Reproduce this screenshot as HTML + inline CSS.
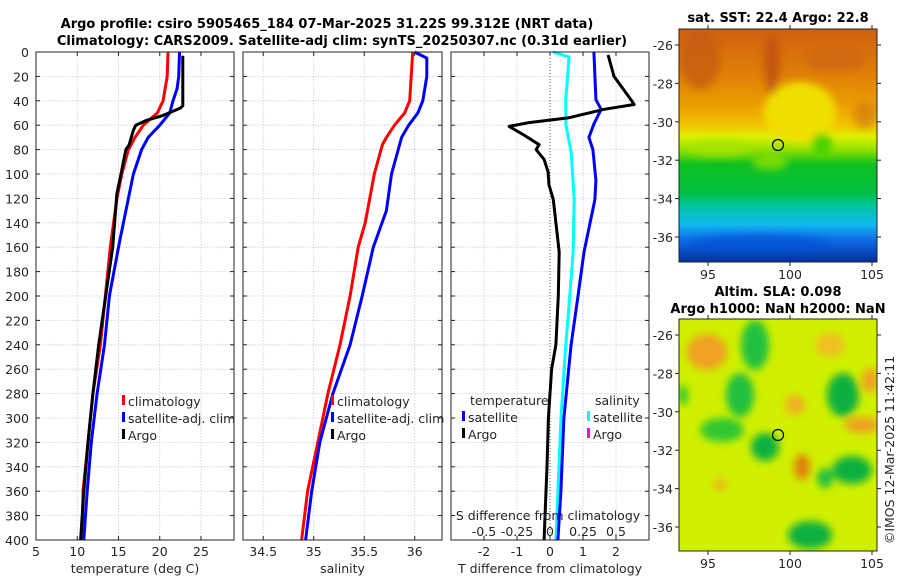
<!DOCTYPE html>
<html><head><meta charset="utf-8"><style>
body{margin:0;background:#fff;}
svg{display:block;font-family:"DejaVu Sans","Liberation Sans",sans-serif;}
.t{font-size:12.5px;fill:#262626}
.b{font-weight:bold;font-size:13px;fill:#000}
</style></head><body>
<svg id="fig" width="900" height="580" viewBox="0 0 900 580" xmlns="http://www.w3.org/2000/svg">
<defs>
<linearGradient id="sstg" x1="0" y1="0" x2="0" y2="1">
<stop offset="0" stop-color="#d06010"/><stop offset="0.2" stop-color="#e08008"/><stop offset="0.33" stop-color="#eca000"/>
<stop offset="0.42" stop-color="#f0c800"/><stop offset="0.46" stop-color="#e0f000"/><stop offset="0.52" stop-color="#90e000"/>
<stop offset="0.58" stop-color="#10c020"/><stop offset="0.7" stop-color="#00c040"/><stop offset="0.76" stop-color="#00c4a0"/>
<stop offset="0.84" stop-color="#10b8f0"/><stop offset="0.9" stop-color="#1070e8"/><stop offset="1" stop-color="#0030a0"/>
</linearGradient>
<filter id="bl" x="-50%" y="-50%" width="200%" height="200%"><feGaussianBlur stdDeviation="4"/></filter>
<clipPath id="c1"><rect x="679" y="29" width="198" height="233"/></clipPath>
<clipPath id="c2"><rect x="679" y="319" width="198" height="232"/></clipPath>
</defs>
<text class="b" x="327" y="28" text-anchor="middle">Argo profile: csiro 5905465_184 07-Mar-2025 31.22S 99.312E (NRT data)</text>
<text class="b" x="342" y="45" text-anchor="middle">Climatology: CARS2009. Satellite-adj clim: synTS_20250307.nc (0.31d earlier)</text>
<g id="panels"></g>
<!-- SST map -->
<g clip-path="url(#c1)">
<rect x="679" y="29" width="198" height="233" fill="url(#sstg)"/>
<g filter="url(#bl)">
<ellipse cx="800" cy="112" rx="36" ry="30" fill="#f0e000"/>
<ellipse cx="700" cy="60" rx="20" ry="30" fill="#c05810" opacity="0.7"/>
<ellipse cx="772" cy="65" rx="8" ry="30" fill="#b84a10" opacity="0.7"/>
<ellipse cx="835" cy="60" rx="30" ry="12" fill="#c86010" opacity="0.6"/>
<ellipse cx="865" cy="115" rx="12" ry="14" fill="#d07010" opacity="0.6"/>
<ellipse cx="822" cy="145" rx="10" ry="12" fill="#40d000" opacity="0.9"/>
<ellipse cx="720" cy="148" rx="32" ry="8" fill="#a8e400" opacity="0.8"/>
<ellipse cx="770" cy="162" rx="18" ry="8" fill="#90e000" opacity="0.8"/>
<ellipse cx="760" cy="244" rx="70" ry="10" fill="#0a50d0" opacity="0.6"/>
</g>
</g>
<rect x="679" y="29" width="198" height="233" fill="none" stroke="#222" stroke-width="1"/>
<circle cx="778" cy="145" r="5.5" fill="none" stroke="#000" stroke-width="1.2"/>
<text class="b" x="778" y="22" text-anchor="middle">sat. SST: 22.4 Argo: 22.8</text>
<!-- SLA map -->
<g clip-path="url(#c2)">
<rect x="679" y="319" width="198" height="232" fill="#d0f000"/>
<g filter="url(#bl)">
<ellipse cx="707" cy="352" rx="20" ry="18" fill="#f0a020"/>
<ellipse cx="755" cy="345" rx="14" ry="25" fill="#20c040"/>
<ellipse cx="740" cy="395" rx="14" ry="22" fill="#20c040"/>
<ellipse cx="722" cy="430" rx="22" ry="12" fill="#30c830"/>
<ellipse cx="765" cy="447" rx="14" ry="14" fill="#10b040"/>
<ellipse cx="843" cy="395" rx="16" ry="22" fill="#10b040"/>
<ellipse cx="852" cy="470" rx="20" ry="14" fill="#10b040"/>
<ellipse cx="825" cy="478" rx="8" ry="10" fill="#20c040"/>
<ellipse cx="810" cy="535" rx="22" ry="14" fill="#10b040"/>
<ellipse cx="802" cy="467" rx="8" ry="13" fill="#e08010"/>
<ellipse cx="795" cy="405" rx="10" ry="10" fill="#f0b020"/>
<ellipse cx="862" cy="425" rx="18" ry="8" fill="#f0a020"/>
<ellipse cx="870" cy="380" rx="8" ry="12" fill="#f0a020"/>
<ellipse cx="830" cy="345" rx="15" ry="12" fill="#f0c020"/>
<ellipse cx="720" cy="485" rx="6" ry="6" fill="#f0b020"/>
<ellipse cx="683" cy="395" rx="5" ry="10" fill="#30c830"/>
</g>
</g>
<rect x="679" y="319" width="198" height="232" fill="none" stroke="#222" stroke-width="1"/>
<circle cx="778" cy="435" r="5.5" fill="none" stroke="#000" stroke-width="1.2"/>
<text class="b" x="778" y="296" text-anchor="middle">Altim. SLA: 0.098</text>
<text class="b" x="778" y="313" text-anchor="middle">Argo h1000: NaN h2000: NaN</text>
<text class="t" x="0" y="0" transform="translate(894,450) rotate(-90)" text-anchor="middle">©IMOS 12-Mar-2025 11:42:11</text>
<g id="mapaxes"></g>
</svg>
<script>
// ---- data ----
const depthTicks = [0,20,40,60,80,100,120,140,160,180,200,220,240,260,280,300,320,340,360,380,400];
const tempTicks = [5,10,15,20,25];
const salTicks = [34.5,35,35.5,36];
const tdiffTicks = [-2,-1,0,1,2];
const sdiffTicks = [-0.5,-0.25,0,0.25,0.5];
const sdiffTickLabels = ["-0.5","-0.25","0","0.25","0.5"];
const latTicks = [-26,-28,-30,-32,-34,-36];
const lonTicks = [95,100,105];

const climTDepth = [0,20,40,50,60,70,80,100,120,160,240,280,320,360,400];
const climT      = [21.0,20.9,20.4,19.7,18.0,17.0,16.2,15.4,14.8,14.0,12.8,11.9,11.3,10.7,10.6];
const satTDepth  = [0,20,30,40,50,60,70,80,100,120,140,160,200,240,280,320,360,400];
const satT       = [22.4,22.3,22.1,21.6,21.2,20.0,18.6,17.8,16.8,16.2,15.6,15.0,13.9,13.3,12.4,11.7,11.2,10.8];
const argoTDepth = [3,44,46,52,56,60,64,76,80,90,100,116,160,240,280,320,360,400];
const argoT      = [22.8,22.8,22.5,20.4,18.4,17.1,16.8,16.3,15.9,15.6,15.3,14.8,14.3,12.6,11.9,11.3,10.8,10.4];

const climSDepth = [0,40,50,60,70,76,100,140,160,200,240,280,320,360,400];
const climS      = [35.98,35.95,35.9,35.8,35.72,35.68,35.6,35.51,35.44,35.36,35.26,35.14,35.04,34.94,34.88];
const satSDepth  = [0,5,20,40,50,60,70,100,130,160,200,240,280,320,360,400];
const satS       = [36.0,36.12,36.12,36.08,36.03,35.94,35.87,35.77,35.72,35.59,35.48,35.36,35.19,35.06,34.98,34.92];

const argoDTDepth = [2.5,20,39,43,47,54,58,61,68,76,80,88,98,109,121,164,200,240,260,300,340,360,400];
const argoDT      = [1.76,1.94,2.45,2.55,1.64,0.55,-0.67,-1.24,-0.79,-0.33,-0.42,-0.18,-0.06,-0.03,0.1,0.28,0.25,0.18,0.05,-0.05,-0.09,-0.12,-0.18];
const satDTDepth  = [0,39,47,59,70,80,105,121,164,200,240,300,360,400];
const satDT       = [1.33,1.39,1.55,1.33,1.18,1.3,1.39,1.36,1.03,0.85,0.64,0.42,0.33,0.24];
const satDSDepth  = [0,4,39,59,82,121,164,200,240,300,400];
const satDS       = [0.022,0.145,0.12,0.12,0.16,0.183,0.175,0.15,0.12,0.083,0.045];

// ---- scales ----
const Y0=52, Y1=540;
const yS = d => Y0 + d*(Y1-Y0)/400;
const P1={x0:36,x1:234,d0:5,d1:29};
const P2={x0:243,x1:442,d0:34.3,d1:36.27};
const P3={x0:451,x1:649,d0:-3,d1:3};
const sx = (p,v) => p.x0 + (v-p.d0)*(p.x1-p.x0)/(p.d1-p.d0);
const sS = v => sx(P3, v*4);
const NS="http://www.w3.org/2000/svg";
const root=document.getElementById('panels');
function mk(tag,attrs,parent){const e=document.createElementNS(NS,tag);for(const k in attrs)e.setAttribute(k,attrs[k]);(parent||root).appendChild(e);return e;}
function txt(x,y,s,anchor,parent,cls){const e=mk('text',{x:x,y:y,'text-anchor':anchor||'middle',class:cls||'t'},parent);e.textContent=s;return e;}

function panel(p,name,xticks,xfmt,xlabel){
  const g=mk('g',{});
  
  
  depthTicks.forEach(d=>{
    const y=yS(d);
    mk('line',{x1:p.x0,x2:p.x1,y1:y,y2:y,stroke:'#c4cce8','stroke-width':0.8,'stroke-dasharray':'1.5,1.5'},g);
    mk('line',{x1:p.x0,x2:p.x0+4,y1:y,y2:y,stroke:'#222'},g);
    mk('line',{x1:p.x1-4,x2:p.x1,y1:y,y2:y,stroke:'#222'},g);
  });
  xticks.forEach(v=>{
    const x=sx(p,v);
    mk('line',{x1:x,x2:x,y1:Y0,y2:Y1,stroke:'#c4cce8','stroke-width':0.8,'stroke-dasharray':'1.5,1.5'},g);
    mk('line',{x1:x,x2:x,y1:Y1,y2:Y1-4,stroke:'#222'},g);
    mk('line',{x1:x,x2:x,y1:Y0,y2:Y0+4,stroke:'#222'},g);
    const t=txt(x,556,xfmt(v),'middle',g);
    
    
  });
  const xl=txt((p.x0+p.x1)/2,573,xlabel,'middle',g);
  
  
  return g;
}
function line(g,xs,ds,scale,color,name,w){
  const pts=xs.map((v,i)=>scale(v).toFixed(1)+','+yS(ds[i]).toFixed(1)).join(' ');
  const l=mk('polyline',{points:pts,fill:'none',stroke:color,'stroke-width':w||3,'stroke-linejoin':'round'},g);
  
  
}
function frame(p,g){mk('rect',{x:p.x0,y:Y0,width:p.x1-p.x0,height:Y1-Y0,fill:'none',stroke:'#222','stroke-width':1},g);}
function legItem(g,x,y,color,label){
  mk('rect',{x:x,y:y-11,width:3,height:10,fill:color},g);
  const t=txt(x+6,y,label,'start',g);
  
  
}

// panel 1
const g1=panel(P1,'temperature-panel',tempTicks,v=>String(v),'temperature (deg C)');
depthTicks.forEach(d=>{const t=txt(29,yS(d)+5,String(d),'end',g1);
  
  });
line(g1,climT,climTDepth,v=>sx(P1,v),'#ff0000','temp-climatology-line');
line(g1,satT,satTDepth,v=>sx(P1,v),'#0000ff','temp-satellite-line');
line(g1,argoT,argoTDepth,v=>sx(P1,v),'#000000','temp-argo-line');
frame(P1,g1);
legItem(g1,122,406,'#ff0000','climatology');
legItem(g1,122,423,'#0000ff','satellite-adj. clim');
legItem(g1,122,440,'#000000','Argo');

// panel 2
const g2=panel(P2,'salinity-panel',salTicks,v=>String(v),'salinity');
line(g2,climS,climSDepth,v=>sx(P2,v),'#ff0000','sal-climatology-line');
line(g2,satS,satSDepth,v=>sx(P2,v),'#0000ff','sal-satellite-line');
frame(P2,g2);
legItem(g2,331,406,'#ff0000','climatology');
legItem(g2,331,423,'#0000ff','satellite-adj. clim');
legItem(g2,331,440,'#000000','Argo');

// panel 3
const g3=panel(P3,'difference-panel',tdiffTicks,v=>String(v),'T difference from climatology');
mk('line',{x1:sx(P3,0),x2:sx(P3,0),y1:Y0,y2:Y1,stroke:'#556b2f','stroke-width':1,'stroke-dasharray':'1,2'},g3);
line(g3,satDS,satDSDepth,sS,'#00ffff','sal-diff-satellite-line');
line(g3,satDT,satDTDepth,v=>sx(P3,v),'#0000ff','temp-diff-satellite-line');
line(g3,argoDT,argoDTDepth,v=>sx(P3,v),'#000000','temp-diff-argo-line');
frame(P3,g3);
txt(470,405,'temperature','start',g3);
legItem(g3,462,422,'#0000ff','satellite');
legItem(g3,462,439,'#000000','Argo');
txt(595,405,'salinity','start',g3);
legItem(g3,587,422,'#00ffff','satellite');
legItem(g3,587,439,'#ff00ff','Argo');
const st=txt(548,520,'S difference from climatology','middle',g3);


sdiffTicks.forEach((v,i)=>{const t=txt(sS(v),536,sdiffTickLabels[i],'middle',g3);
  
  });

// map axes
const ma=document.getElementById('mapaxes');
const lonX=v=>708+(v-95)*16.4;
[[29,262,45],[319,551,335]].forEach(([top,bot,y26])=>{
  latTicks.forEach(lat=>{
    const py=y26+(-26-lat)*19.2;
    mk('line',{x1:877,x2:881,y1:py,y2:py,stroke:'#222'},ma);
    mk('line',{x1:675,x2:679,y1:py,y2:py,stroke:'#222'},ma);
    const t=txt(673,py+5,String(lat),'end',ma);
    
    
  });
  lonTicks.forEach(lon=>{
    const x=lonX(lon);
    mk('line',{x1:x,x2:x,y1:bot,y2:bot+4,stroke:'#222'},ma);
    mk('line',{x1:x,x2:x,y1:top-4,y2:top,stroke:'#222'},ma);
    const t=txt(x,bot+17,String(lon),'middle',ma);
    
    
  });
});
</script>
</body></html>
